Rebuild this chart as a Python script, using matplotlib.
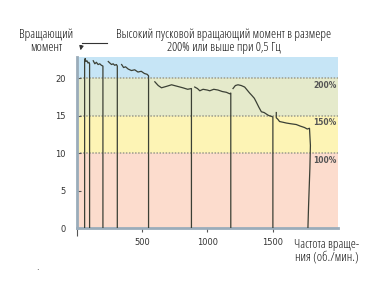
import matplotlib
matplotlib.use("Agg")
import matplotlib.pyplot as plt

# band limits (torque) and colours
band_edges = [0, 10, 15, 20, 22.8]
band_colors = ["#fcdccd", "#fdf4b5", "#e5eacb", "#c6e5f6"]
band_lines = [10, 15, 20]
band_labels = ["100%", "150%", "200%"]

# speed (rpm) / torque traces, each ends with drop to 0
speed_1 = [62, 62, 66, 72, 80, 88, 95, 100, 100]
torque_1 = [0, 22.3, 22.6, 22.2, 22.3, 22.0, 22.1, 21.9, 0]
speed_2 = [128, 140, 152, 165, 178, 190, 202, 202]
torque_2 = [22.3, 21.9, 22.1, 21.8, 21.9, 21.7, 21.6, 0]
speed_3 = [243, 255, 268, 280, 292, 305, 312, 312]
torque_3 = [22.2, 22.0, 21.8, 21.9, 21.7, 21.8, 21.6, 0]
speed_4 = [345, 360, 375, 395, 420, 445, 470, 495, 520, 540, 551, 551]
torque_4 = [21.8, 21.4, 21.5, 21.2, 21.0, 21.1, 20.8, 20.9, 20.6, 20.5, 20.3, 0]
speed_5 = [599, 625, 650, 690, 727, 770, 813, 850, 879, 879]
torque_5 = [19.5, 19.0, 18.7, 18.9, 19.1, 18.9, 18.7, 18.5, 18.6, 0]
speed_6 = [904, 925, 943, 968, 1000, 1019, 1050, 1082, 1115, 1146, 1172, 1180, 1180]
torque_6 = [18.8, 18.6, 18.3, 18.5, 18.4, 18.3, 18.5, 18.4, 18.2, 18.1, 17.9, 18.0, 0]
speed_7 = [1197, 1215, 1235, 1260, 1286, 1305, 1324, 1340, 1360, 1375, 1395,
           1414, 1435, 1452, 1470, 1490, 1502, 1502]
torque_7 = [18.6, 19.0, 19.1, 19.0, 18.8, 18.4, 18.0, 17.7, 17.3, 16.8, 16.1,
            15.5, 15.4, 15.2, 15.0, 14.9, 14.8, 0]
speed_8 = [1528, 1528, 1540, 1553, 1580, 1605, 1640, 1681, 1710, 1744, 1765,
           1782, 1789, 1785, 1775, 1770]
torque_8 = [15.4, 14.7, 14.5, 14.2, 14.1, 14.0, 13.9, 13.8, 13.6, 13.4, 13.2,
            13.3, 11, 8, 3, 0]

traces = [(speed_1, torque_1), (speed_2, torque_2), (speed_3, torque_3),
          (speed_4, torque_4), (speed_5, torque_5), (speed_6, torque_6),
          (speed_7, torque_7), (speed_8, torque_8)]

x_ticks = [500, 1000, 1500]
y_ticks = [0, 5, 10, 15, 20]

TXT = dict(family="Open Sans", stretch="condensed", fontweight="medium")

fig = plt.figure(figsize=(3.70, 2.81), dpi=100)
ax = fig.add_axes([0.2068, 0.1886, 0.7067, 0.6084])
ax.set_xlim(0, 2000)
ax.set_ylim(band_edges[0], band_edges[-1])

for lo, hi, c in zip(band_edges[:-1], band_edges[1:], band_colors):
    ax.axhspan(lo, hi, color=c, lw=0, zorder=0)
for yl, lab in zip(band_lines, band_labels):
    ax.axhline(yl, color="#9c9c8c", lw=1.1, ls=(0, (1, 1)), zorder=1)
    ax.text(1990, yl - 0.95, lab, ha="right", va="center", fontsize=5.5,
            fontweight="bold", color="#555555", family="DejaVu Sans")

for sx, ty in traces:
    ax.plot(sx, ty, color="#3b4035", lw=0.9, zorder=3)

for side in ["top", "right"]:
    ax.spines[side].set_visible(False)
for side in ["left", "bottom"]:
    ax.spines[side].set_color("#9aacba")
    ax.spines[side].set_linewidth(2)

ax.set_xticks(x_ticks)
ax.set_xticks([0], minor=True)
ax.set_yticks(y_ticks)
ax.tick_params(axis="x", direction="out", length=3, width=0.8, color="#555555",
               labelsize=6, pad=4, labelcolor="#333333")
ax.tick_params(axis="x", which="minor", direction="out", length=6, width=0.8,
               color="#555555")
ax.tick_params(axis="y", direction="in", length=3, width=0.8, color="#555555",
               labelsize=6, pad=8, labelcolor="#333333")
for lab in ax.get_xticklabels() + ax.get_yticklabels():
    lab.set_family("DejaVu Sans")

fig.text(46 / 370, 1 - 41 / 281, "Вращающий\nмомент", ha="center", va="center",
         fontsize=9.2, color="#111111", linespacing=0.95, **TXT)
fig.text(224 / 370, 1 - 41 / 281,
         "Высокий пусковой вращающий момент в размере\n200% или выше при 0,5 Гц",
         ha="center", va="center", fontsize=9.2, color="#111111", linespacing=0.95,
         **TXT)
fig.text(327 / 370, 1 - 251 / 281, "Частота враще-\nния (об./мин.)",
         ha="center", va="center", fontsize=9.2, color="#111111", linespacing=0.95,
         **TXT)
fig.text(37 / 370, 1 - 267 / 281, ".", ha="center", va="center", fontsize=6,
         color="#222222")

# arrow pointing at the start of the first trace
fig.add_artist(plt.Line2D([82 / 370, 107 / 370], [1 - 43 / 281, 1 - 43 / 281],
                          color="#333333", lw=0.8))
ax.annotate("", xy=(80 / 370, 1 - 53 / 281), xycoords="figure fraction",
            xytext=(82 / 370, 1 - 43 / 281), textcoords="figure fraction",
            arrowprops=dict(arrowstyle="-|>", color="#333333", lw=0.8,
                            mutation_scale=6))

fig.savefig("out.png", dpi=100)
